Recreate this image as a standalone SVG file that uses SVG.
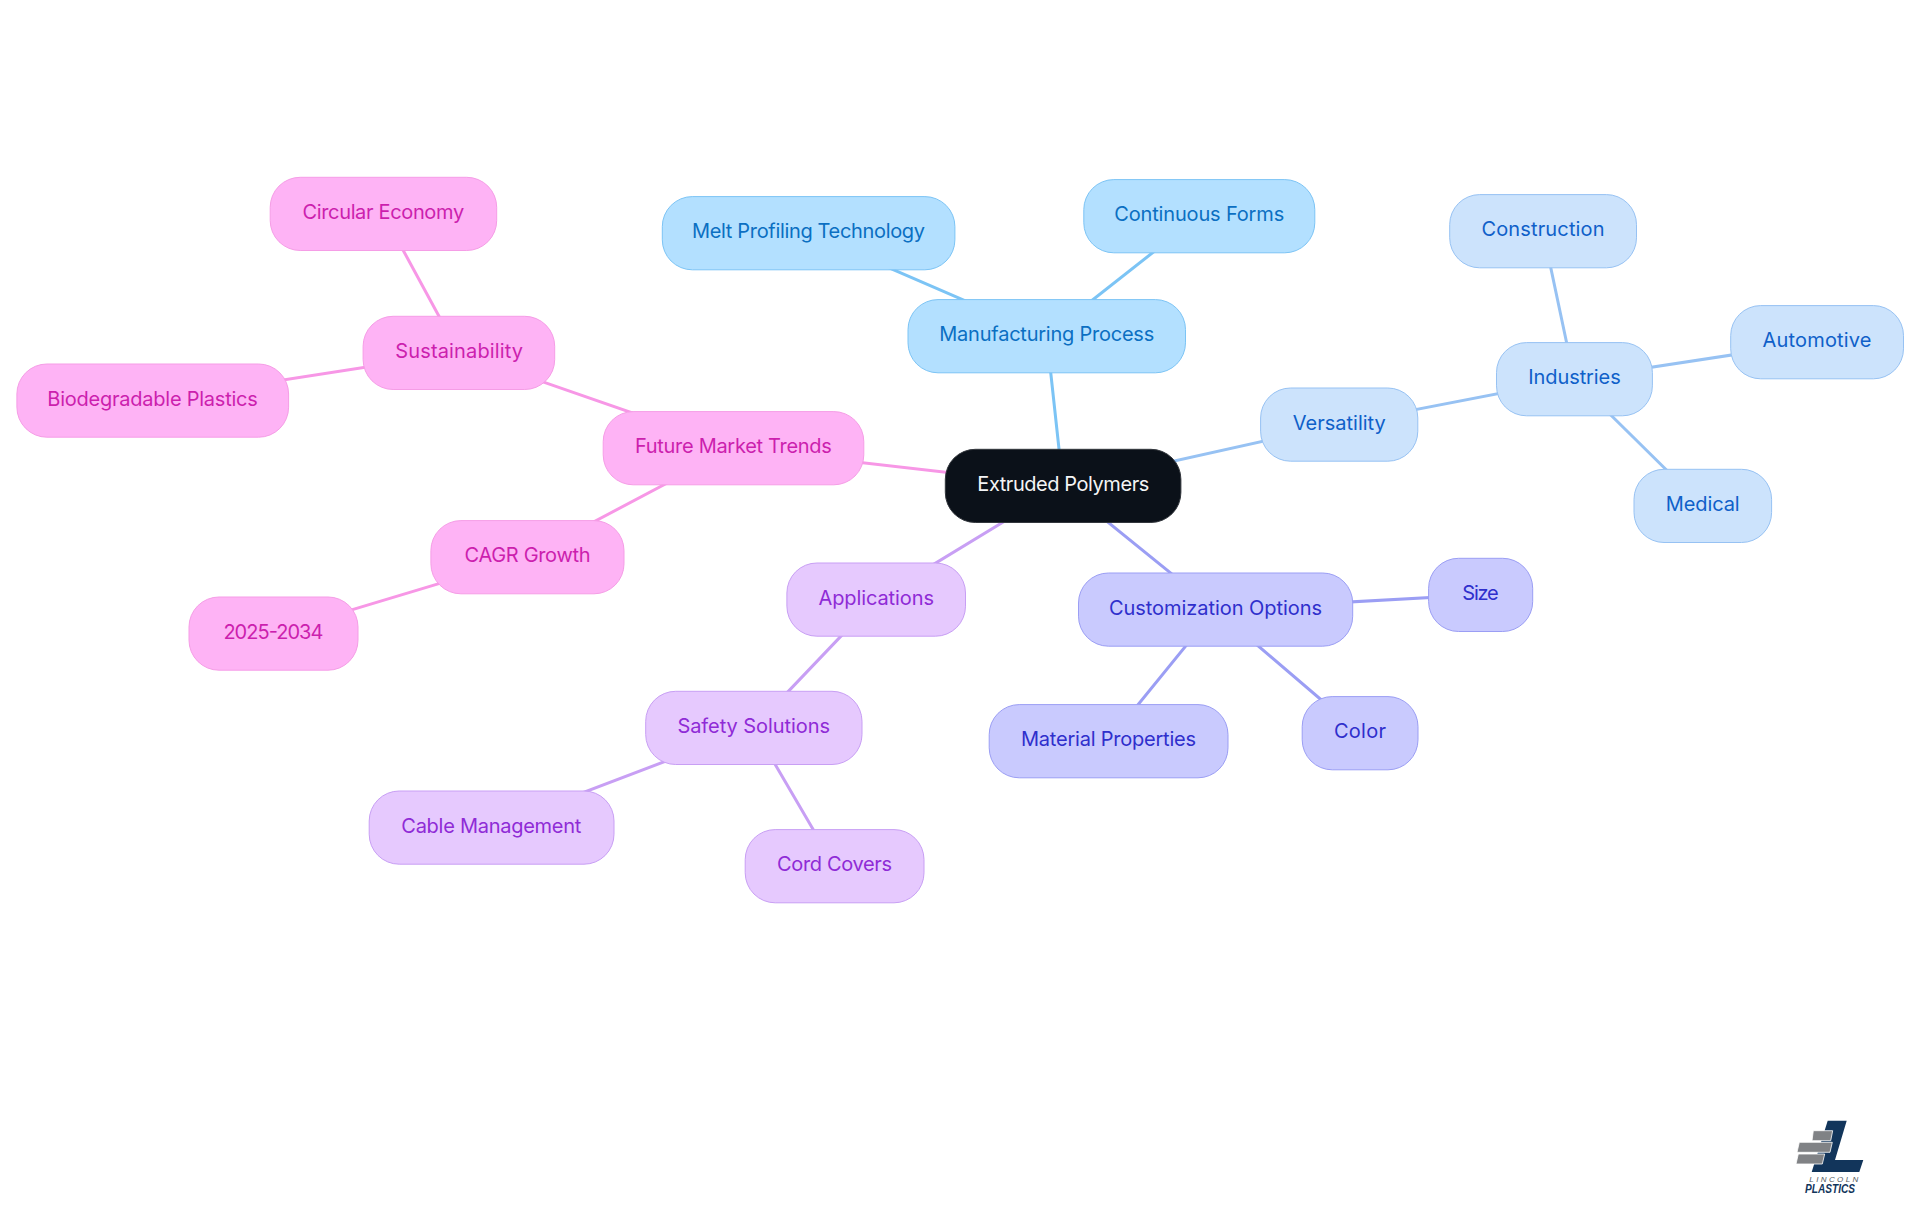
<svg xmlns="http://www.w3.org/2000/svg" width="1920" height="1215" viewBox="0 0 1920 1215">
<style>
text{font-family:"Inter","Noto Sans","Liberation Sans",sans-serif;font-size:20px;text-anchor:middle;font-weight:380}
rect.n{rx:30px;ry:30px;stroke-width:1}
line{stroke-width:3;stroke-linecap:round;fill:none}
.root rect{fill:#0b1119;stroke:#33373d}.root text{fill:#f4f5f6}
.a rect{fill:#b3e0ff;stroke:#7cc4f5}.a text{fill:#0b6fc2}line.a{stroke:#7cc4f5}
.b rect{fill:#cce3fc;stroke:#97c2f3}.b text{fill:#0f60c9}line.b{stroke:#97c2f3}
.c rect{fill:#c9cafe;stroke:#9b9ef4}.c text{fill:#2f2fcc}line.c{stroke:#9b9ef4}
.d rect{fill:#e6c9fe;stroke:#c89ff4}.d text{fill:#8f2bd6}line.d{stroke:#c89ff4}
.e rect{fill:#feb3f5;stroke:#f59de6}.e text{fill:#cc1fae}line.e{stroke:#f797e6}
</style>
<rect width="1920" height="1215" fill="#ffffff"/>
<g id="connectors">
<line class="a" x1="1063" y1="485.75" x2="1046.75" y2="336"/>
<line class="a" x1="1046.75" y1="336" x2="808.5" y2="233"/>
<line class="a" x1="1046.75" y1="336" x2="1199.2" y2="216"/>
<line class="b" x1="1063" y1="485.75" x2="1339.1" y2="424.4"/>
<line class="b" x1="1339.1" y1="424.4" x2="1574.3" y2="379"/>
<line class="b" x1="1574.3" y1="379" x2="1543" y2="231"/>
<line class="b" x1="1574.3" y1="379" x2="1817" y2="342"/>
<line class="b" x1="1574.3" y1="379" x2="1702.7" y2="505.7"/>
<line class="c" x1="1063" y1="485.75" x2="1215.5" y2="609.4"/>
<line class="c" x1="1215.5" y1="609.4" x2="1480.5" y2="594.7"/>
<line class="c" x1="1215.5" y1="609.4" x2="1360" y2="733"/>
<line class="c" x1="1215.5" y1="609.4" x2="1108.5" y2="741"/>
<line class="d" x1="1063" y1="485.75" x2="876" y2="599.4"/>
<line class="d" x1="876" y1="599.4" x2="753.7" y2="727.7"/>
<line class="d" x1="753.7" y1="727.7" x2="491.5" y2="827.4"/>
<line class="d" x1="753.7" y1="727.7" x2="834.5" y2="866"/>
<line class="e" x1="1063" y1="485.75" x2="733.4" y2="448"/>
<line class="e" x1="733.4" y1="448" x2="458.8" y2="352.7"/>
<line class="e" x1="458.8" y1="352.7" x2="383.3" y2="213.7"/>
<line class="e" x1="458.8" y1="352.7" x2="152.6" y2="400.4"/>
<line class="e" x1="733.4" y1="448" x2="527.3" y2="557"/>
<line class="e" x1="527.3" y1="557" x2="273.4" y2="633.4"/>
</g>
<g id="node-root" class="root"><rect class="n" x="945.3" y="449.3" width="235.6" height="73.2"/><text x="1063.3" y="491.3" textLength="172">Extruded Polymers</text></g>
<g id="node-manufacturing" class="a"><rect class="n" x="908" y="299.6" width="277.5" height="73.2"/><text x="1046.75" y="341.4" textLength="215">Manufacturing Process</text></g>
<g id="node-melt" class="a"><rect class="n" x="662.3" y="196.6" width="292.6" height="73.2"/><text x="808.5" y="238.4" textLength="233">Melt Profiling Technology</text></g>
<g id="node-continuous" class="a"><rect class="n" x="1083.8" y="179.6" width="231" height="73.2"/><text x="1199.2" y="221.4" textLength="170">Continuous Forms</text></g>
<g id="node-versatility" class="b"><rect class="n" x="1260.6" y="388" width="157.2" height="73.2"/><text x="1339.3" y="429.8" textLength="93">Versatility</text></g>
<g id="node-industries" class="b"><rect class="n" x="1496.5" y="342.6" width="155.9" height="73.2"/><text x="1574.5" y="384.4" textLength="92.5">Industries</text></g>
<g id="node-construction" class="b"><rect class="n" x="1449.7" y="194.6" width="186.8" height="73.2"/><text x="1543" y="236.4" textLength="123">Construction</text></g>
<g id="node-automotive" class="b"><rect class="n" x="1730.7" y="305.6" width="172.8" height="73.2"/><text x="1817" y="347.4" textLength="109">Automotive</text></g>
<g id="node-medical" class="b"><rect class="n" x="1634" y="469.3" width="137.6" height="73.2"/><text x="1702.7" y="511.1" textLength="73.8">Medical</text></g>
<g id="node-customization" class="c"><rect class="n" x="1078.5" y="573" width="274.2" height="73.2"/><text x="1215.5" y="614.8" textLength="213">Customization Options</text></g>
<g id="node-size" class="c"><rect class="n" x="1428.6" y="558.3" width="104.1" height="73.2"/><text x="1480.5" y="600.1" textLength="36.5">Size</text></g>
<g id="node-color" class="c"><rect class="n" x="1302.2" y="696.6" width="115.8" height="73.2"/><text x="1360" y="738.4" textLength="52">Color</text></g>
<g id="node-material" class="c"><rect class="n" x="989.2" y="704.6" width="238.8" height="73.2"/><text x="1108.5" y="746.4" textLength="175">Material Properties</text></g>
<g id="node-applications" class="d"><rect class="n" x="786.9" y="563" width="178.6" height="73.2"/><text x="876.2" y="604.8" textLength="115.5">Applications</text></g>
<g id="node-safety" class="d"><rect class="n" x="645.7" y="691.3" width="216.3" height="73.2"/><text x="753.7" y="733.1" textLength="152.5">Safety Solutions</text></g>
<g id="node-cable" class="d"><rect class="n" x="369.2" y="791" width="244.8" height="73.2"/><text x="491.3" y="832.8" textLength="180">Cable Management</text></g>
<g id="node-cord" class="d"><rect class="n" x="745.2" y="829.6" width="178.8" height="73.2"/><text x="834.5" y="871.4" textLength="115">Cord Covers</text></g>
<g id="node-future" class="e"><rect class="n" x="603.2" y="411.6" width="260.6" height="73.2"/><text x="733.4" y="453.4" textLength="196.8">Future Market Trends</text></g>
<g id="node-sustainability" class="e"><rect class="n" x="363.1" y="316.3" width="191.6" height="73.2"/><text x="459.2" y="358.1" textLength="127.8">Sustainability</text></g>
<g id="node-circular" class="e"><rect class="n" x="270.2" y="177.3" width="226.5" height="73.2"/><text x="383.3" y="219.1" textLength="161.7">Circular Economy</text></g>
<g id="node-biodegradable" class="e"><rect class="n" x="16.9" y="364" width="271.7" height="73.2"/><text x="152.6" y="405.8" textLength="210.5">Biodegradable Plastics</text></g>
<g id="node-cagr" class="e"><rect class="n" x="430.9" y="520.6" width="193.1" height="73.2"/><text x="527.5" y="562.4" textLength="126">CAGR Growth</text></g>
<g id="node-years" class="e"><rect class="n" x="189" y="597" width="169" height="73.2"/><text x="273.4" y="638.8" textLength="100">2025-2034</text></g>
<g id="logo">
<polygon points="1827.7,1120.7 1846.7,1120.7 1835,1160 1863.3,1160 1859.3,1172 1811.7,1172" fill="#12355b"/>
<polygon points="1813.3,1130.7 1832.7,1130.7 1830.7,1140.7 1812,1140.7" fill="#808285" stroke="#ffffff" stroke-width="0.8"/>
<polygon points="1799.3,1142.3 1832.3,1142.3 1830,1152.3 1797,1152.3" fill="#808285" stroke="#ffffff" stroke-width="0.8"/>
<polygon points="1798.3,1154 1824.7,1154 1822.3,1164 1796,1164" fill="#808285" stroke="#ffffff" stroke-width="0.8"/>
<text x="1833.8" y="1182" textLength="49" style="font-family:'Liberation Sans',sans-serif;font-size:8px;font-style:italic;fill:#555a60">LINCOLN</text>
<text x="1830" y="1193.3" textLength="50" lengthAdjust="spacingAndGlyphs" style="font-family:'Liberation Sans',sans-serif;font-size:13px;font-style:italic;font-weight:700;fill:#12355b">PLASTICS</text>
</g>
</svg>
